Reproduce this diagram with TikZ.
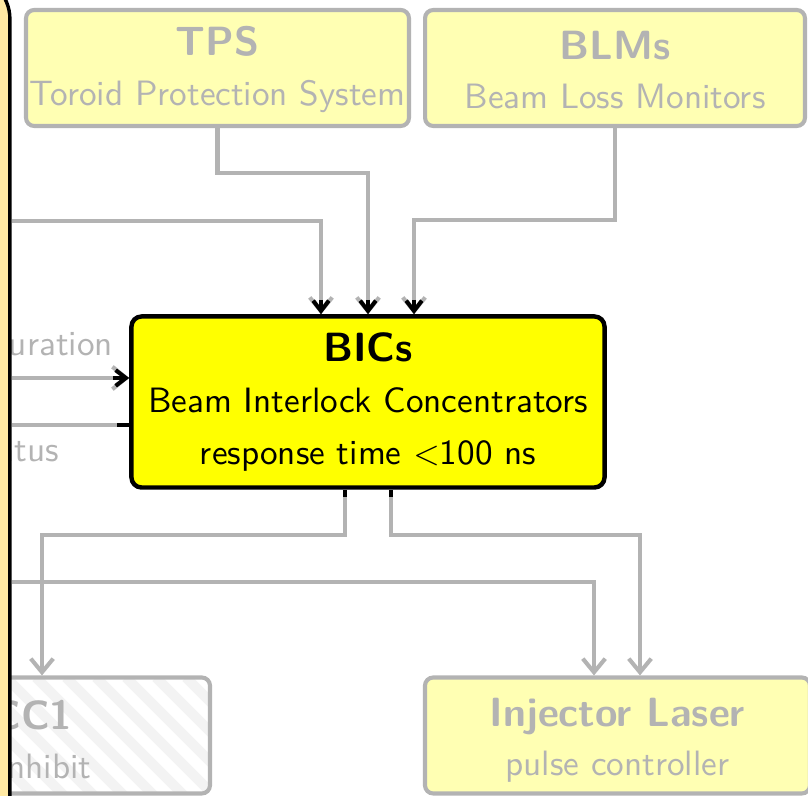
\documentclass[tikz,border=0pt]{standalone}
\usepackage{tikz}
\usetikzlibrary{arrows.meta,calc}
\definecolor{dimgray}{HTML}{B3B3B3}
\definecolor{dimfill}{HTML}{FFFFB3}
\definecolor{hotfill}{HTML}{FFFF00}
\definecolor{ctrlfill}{HTML}{FFE9A3}
\definecolor{stripegray}{HTML}{F3F3F3}
\pgfdeclarelayer{front}
\pgfsetlayers{main,front}
\tikzset{
  dimbox/.style={draw=dimgray,line width=1.2pt,fill=dimfill,rounded corners=2.4pt,text=dimgray,align=center,minimum height=34.1pt,inner sep=0pt},
  hotbox/.style={draw=black,line width=1.3pt,fill=hotfill,rounded corners=3pt,align=center,inner sep=0pt},
  lbl/.style={text=dimgray,inner sep=0pt},
  conn/.style={draw=dimgray,line width=1.2pt},
  connarrow/.style={conn,-{Straight Barb[length=4pt,width=6.6pt]}},
  hotstub/.style={draw=black,line width=1.2pt},
  hotarrow/.style={hotstub,-{Straight Barb[length=3pt,width=4.6pt]}}
}

\begin{document}
\begin{tikzpicture}[x=0.294pt,y=-0.294pt,font=\sffamily\fontsize{10.35}{12.4}\selectfont]
    \useasboundingbox (0,0) rectangle (808,796);
    \clip (0,0) rectangle (808,796);
    \begin{pgfonlayer}{front}
      \node[draw=black,line width=1pt,fill=ctrlfill,rounded corners=13pt,minimum width=91.1pt,minimum height=301.4pt] (ctrl) at (-145,487.5) {};
    \end{pgfonlayer}
    \node[dimbox,minimum width=112.6pt] (tps) at (217.5,68) {{\large\bfseries\rule{0pt}{9.4pt}TPS}\\[2.1pt] Toroid Protection System};
    \node[dimbox,minimum width=111.7pt] (blms) at (615,68) {{\large\bfseries\rule{0pt}{9.4pt}BLMs}\\[2.1pt] Beam Loss Monitors};
    \node[hotbox,minimum width=139.1pt,minimum height=50.3pt] (bics) at (368,402) {{\large\bfseries BICs}\\[2.8pt] Beam Interlock Concentrators\\[2.8pt] response time $<$100 ns};
    \node[dimbox,fill=white,minimum width=112.9pt,path picture={
        \foreach \k in {-150,-120,...,420}
          \draw[stripegray,line width=3pt] ($(path picture bounding box.north west)+(\k,0)$) -- ++(140,140);
      }] (acc) at (18,735.5) {{\large\bfseries\rule{0pt}{11pt}ACC1}\\[2.1pt] RF inhibit};
    \node[dimbox,minimum width=113.2pt] (laser) at (617.5,735.5) {{\large\bfseries\rule{0pt}{11pt}Injector Laser}\\[2.1pt] pulse controller};
    \node[lbl,anchor=base] (cfglbl) at (17,356) {configuration};
    \node[lbl,anchor=base] (stslbl) at (15,462) {status};

    \draw[connarrow] (ctrl.east |- 0,221) -| (bics.north -| 321,0);
    \draw[connarrow] (tps.south) |- (368,173) -- (bics.north -| 368,0);
    \draw[connarrow] (blms.south) |- (414,220) -- (bics.north -| 414,0);
    \draw[connarrow] (ctrl.east |- 0,378) -- (bics.west |- 0,378);
    \draw[conn] (bics.west |- 0,425) -- (ctrl.east |- 0,425);
    \draw[connarrow] (bics.south -| 345,0) |- (42,535) -- (acc.north -| 42,0);
    \draw[connarrow] (bics.south -| 391,0) |- (640,535) -- (laser.north -| 640,0);
    \draw[connarrow] (ctrl.east |- 0,582) -| (laser.north -| 594,0);

    \draw[hotarrow] (321,300) -- (bics.north -| 321,0);
    \draw[hotarrow] (368,300) -- (bics.north -| 368,0);
    \draw[hotarrow] (414,300) -- (bics.north -| 414,0);
    \draw[hotarrow] (113,378) -- (bics.west |- 0,378);
    \draw[hotstub] (bics.west |- 0,425) -- (117,425);
    \draw[hotstub] (bics.south -| 345,0) -- (345,497);
    \draw[hotstub] (bics.south -| 391,0) -- (391,497);
  \end{tikzpicture}
\end{document}
